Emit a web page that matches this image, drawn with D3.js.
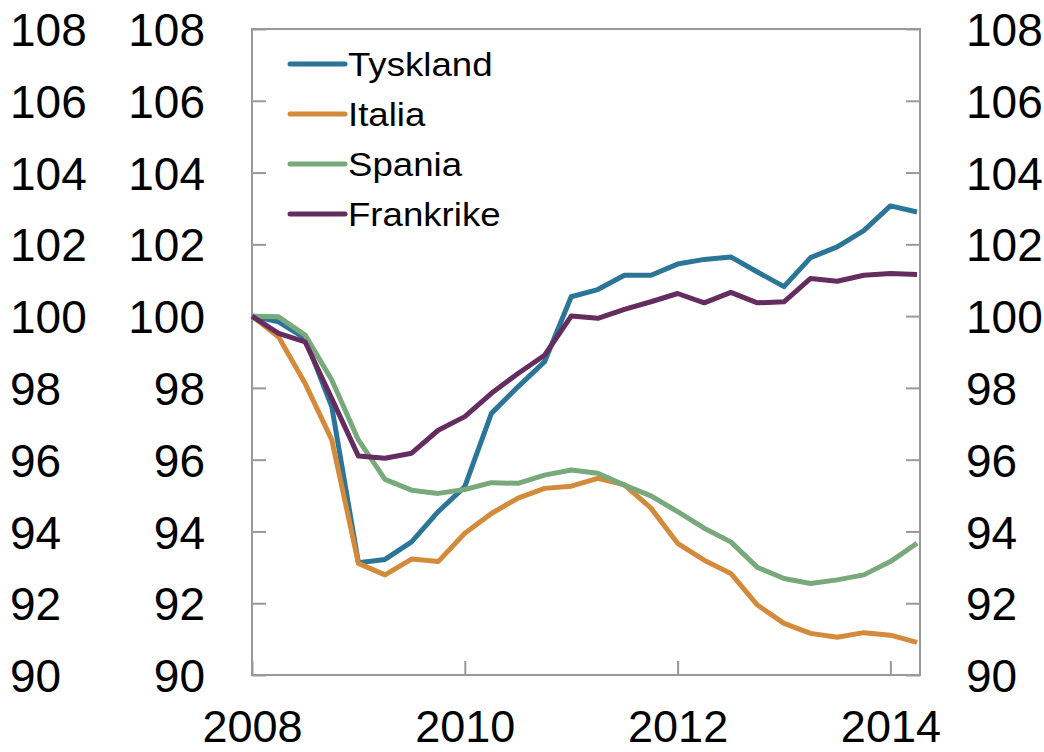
<!DOCTYPE html>
<html lang="no">
<head>
<meta charset="UTF-8">
<title>BNP, indeks 2008 K1 = 100</title>
<script src="https://d3js.org/d3.v7.min.js"></script>
<style>
  body { margin: 0; background: #fff; }
  svg text { font-family: "Liberation Sans", Arial, sans-serif; fill: #000; }
</style>
</head>
<body>
<svg id="chart" width="1044" height="752"></svg>
<script>
// kvartaler
const quarters = [
  "2008K1","2008K2","2008K3","2008K4","2009K1","2009K2","2009K3","2009K4",
  "2010K1","2010K2","2010K3","2010K4","2011K1","2011K2","2011K3","2011K4",
  "2012K1","2012K2","2012K3","2012K4","2013K1","2013K2","2013K3","2013K4",
  "2014K1","2014K2"
];

const tyskland = [100.0, 99.84, 99.38, 97.47, 93.13, 93.22, 93.71, 94.55, 95.25, 97.29,
  98.03, 98.73, 100.54, 100.74, 101.14, 101.14, 101.45, 101.58, 101.65, 101.23,
  100.82, 101.63, 101.93, 102.38, 103.07, 102.9];
const italia = [100.0, 99.42, 98.12, 96.55, 93.11, 92.79, 93.23, 93.16, 93.95, 94.5,
  94.93, 95.2, 95.26, 95.48, 95.3, 94.65, 93.67, 93.2, 92.83, 91.95,
  91.44, 91.16, 91.05, 91.18, 91.11, 90.91];
const spania = [100.0, 99.98, 99.47, 98.22, 96.55, 95.45, 95.15, 95.06, 95.17, 95.36,
  95.34, 95.57, 95.71, 95.62, 95.29, 94.99, 94.55, 94.09, 93.71, 93.0,
  92.69, 92.55, 92.65, 92.79, 93.16, 93.67];
const frankrike = [100.0, 99.52, 99.28, 97.7, 96.1, 96.04, 96.18, 96.82, 97.2, 97.85,
  98.4, 98.91, 100.0, 99.94, 100.19, 100.4, 100.63, 100.37, 100.66, 100.37,
  100.4, 101.05, 100.97, 101.14, 101.19, 101.16];

const seriesNames = ["Tyskland", "Italia", "Spania", "Frankrike"];
const seriesColors = ["#2b7599", "#d38a3a", "#78a97a", "#652c60"];
const yTicks = [90, 92, 94, 96, 98, 100, 102, 104, 106, 108];
const xTicks = [2008, 2010, 2012, 2014];

const series = [tyskland, italia, spania, frankrike];
const toYear = q => +q.slice(0, 4) + (+q.slice(5) - 1) / 4;

const svg = d3.select("#chart");
const plotLeft = 252, plotRight = 919, plotTop = 29, plotBottom = 675;

const x = d3.scaleLinear().domain([2008, 2014.25]).range([plotLeft, plotRight - 2]);
const y = d3.scaleLinear().domain([90, 108]).range([plotBottom, plotTop]);

const axisColor = "#999";
const fontSize = 46;

// ramme
svg.append("rect")
  .attr("x", plotLeft).attr("y", plotTop)
  .attr("width", plotRight - plotLeft + 1).attr("height", plotBottom - plotTop)
  .attr("fill", "none").attr("stroke", axisColor).attr("stroke-width", 2);

function styleAxis(g) {
  g.select(".domain").remove();
  g.selectAll(".tick line").attr("stroke", axisColor).attr("stroke-width", 2);
  g.selectAll(".tick text").attr("font-size", fontSize).attr("fill", "#000");
  g.attr("font-family", null);
}

// venstre akse (indre)
svg.append("g")
  .attr("transform", `translate(${plotLeft},0)`)
  .call(d3.axisLeft(y).tickValues(yTicks).tickSizeInner(-14).tickSizeOuter(0).tickPadding(47))
  .call(styleAxis)
  .selectAll(".tick text").attr("dy", "0.36em");

// venstre ytre kolonne
svg.append("g")
  .attr("transform", "translate(10,0)")
  .call(d3.axisRight(y).tickValues(yTicks).tickSize(0).tickPadding(0))
  .call(styleAxis)
  .selectAll(".tick text").attr("dy", "0.36em");

// høyre akse
svg.append("g")
  .attr("transform", `translate(${plotRight + 1},0)`)
  .call(d3.axisRight(y).tickValues(yTicks).tickSizeInner(-14).tickSizeOuter(0).tickPadding(46))
  .call(styleAxis)
  .selectAll(".tick text").attr("dy", "0.36em");

// x-akse
svg.append("g")
  .attr("transform", `translate(0,${plotBottom})`)
  .call(d3.axisBottom(x).tickValues(xTicks).tickFormat(d3.format("d"))
    .tickSizeInner(-14).tickSizeOuter(0).tickPadding(35))
  .call(styleAxis)
  .selectAll(".tick text").attr("font-size", 45);

// linjer
const line = d3.line()
  .x((d, i) => x(toYear(quarters[i])))
  .y(d => y(d));

svg.append("g")
  .selectAll("path")
  .data(series)
  .join("path")
  .attr("d", d => line(d))
  .attr("fill", "none")
  .attr("stroke", (d, i) => seriesColors[i])
  .attr("stroke-width", 5)
  .attr("stroke-linejoin", "round");

// tegnforklaring
const legend = svg.append("g")
  .selectAll("g")
  .data(seriesNames)
  .join("g")
  .attr("transform", (d, i) => `translate(290,${64 + i * 50})`);

legend.append("line")
  .attr("x1", 0).attr("x2", 55)
  .attr("stroke", (d, i) => seriesColors[i])
  .attr("stroke-width", 5)
  .attr("stroke-linecap", "round");

// teksten er litt bredere enn vanlig Arial i originalen
legend.append("text")
  .attr("transform", "scale(1.11,1)")
  .attr("x", 58 / 1.11)
  .attr("dy", "0.36em")
  .attr("font-size", 33)
  .text(d => d);
</script>
</body>
</html>
